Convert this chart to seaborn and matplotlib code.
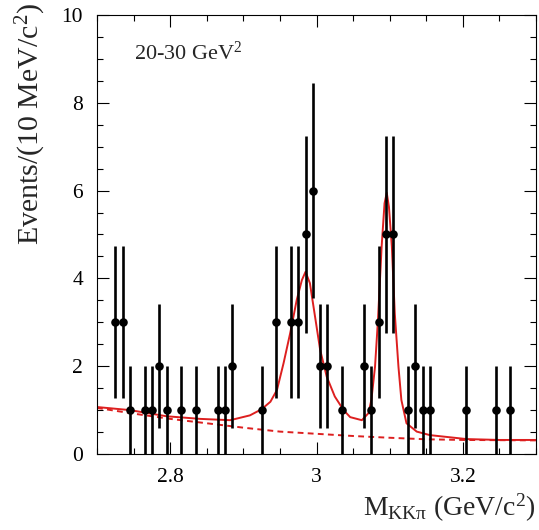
import numpy as np
import pandas as pd
import matplotlib
matplotlib.use("Agg")
import matplotlib.pyplot as plt
import seaborn as sns
from matplotlib.ticker import MultipleLocator

# ---- data ----
mass = [2.725, 2.735, 2.745, 2.765, 2.775, 2.785, 2.795, 2.815, 2.835, 2.865,
        2.875, 2.885, 2.925, 2.945, 2.965, 2.975, 2.985, 2.995, 3.005, 3.015,
        3.035, 3.065, 3.075, 3.085, 3.095, 3.105, 3.125, 3.135, 3.145, 3.155,
        3.205, 3.245, 3.265]
events = [3, 3, 1, 1, 1, 2, 1, 1, 1, 1,
          1, 2, 1, 3, 3, 3, 5, 6, 2, 2,
          1, 2, 1, 3, 5, 5, 1, 2, 1, 1,
          1, 1, 1]

fit_x = [2.700, 2.745, 2.795, 2.841, 2.882, 2.909, 2.925, 2.937, 2.946, 2.955,
         2.964, 2.973, 2.980, 2.985, 2.991, 2.998, 3.005, 3.014, 3.025, 3.037,
         3.046, 3.062, 3.071, 3.075, 3.080, 3.084, 3.089, 3.093, 3.096, 3.099,
         3.103, 3.107, 3.112, 3.116, 3.123, 3.137, 3.155, 3.205, 3.250, 3.300]
fit_y = [1.07, 1.00, 0.86, 0.80, 0.77, 0.88, 1.02, 1.19, 1.46, 2.07,
         2.75, 3.51, 3.96, 4.15, 3.89, 3.13, 2.37, 1.76, 1.31, 1.00,
         0.84, 0.77, 0.93, 1.23, 1.99, 3.05, 4.72, 5.71, 5.95, 5.63,
         4.72, 3.20, 1.99, 1.23, 0.70, 0.51, 0.43, 0.34, 0.32, 0.32]

bkg_x = [2.70, 2.75, 2.80, 2.85, 2.90, 2.95, 3.00, 3.05, 3.10, 3.15, 3.20, 3.25, 3.30]
bkg_y = [1.05, 0.92, 0.80, 0.70, 0.60, 0.51, 0.46, 0.41, 0.37, 0.335, 0.32, 0.315, 0.31]

xticks = [2.8, 3.0, 3.2]
xticklabels = ["2.8", "3", "3.2"]
yticks = [0, 2, 4, 6, 8, 10]
yticklabels = ["0", "2", "4", "6", "8", "10"]

# ---- style ----
sns.set_style("ticks")
plt.rcParams["font.family"] = ["Liberation Serif", "DejaVu Serif"]
plt.rcParams["mathtext.fontset"] = "custom"
plt.rcParams["mathtext.rm"] = "Liberation Serif"
plt.rcParams["mathtext.it"] = "Liberation Serif:italic"

red = "#dd1f1f"

fig = plt.figure(figsize=(5.39, 5.30), dpi=100)
ax = fig.add_axes([97 / 539, 76 / 530, 439 / 539, 439 / 530])

df = pd.DataFrame({"mass": mass, "events": events})
err = np.sqrt(np.array(events, dtype=float))

ax.errorbar(mass, events, yerr=err, fmt="none", ecolor="black",
            elinewidth=1.9, capsize=0, zorder=3)
sns.scatterplot(data=df, x="mass", y="events", ax=ax, color="black",
                marker="o", s=38, edgecolor="black", linewidth=0, zorder=4)

sns.lineplot(x=bkg_x, y=bkg_y, ax=ax, color=red, lw=1.4, sort=False,
             estimator=None, dashes=False, zorder=2)
ax.lines[-1].set_dashes((3, 2.2))
sns.lineplot(x=fit_x, y=fit_y, ax=ax, color=red, lw=1.4, sort=False,
             estimator=None, zorder=2)

ax.set_xlim(2.7, 3.3)
ax.set_ylim(0, 10)
ax.set_xticks(xticks)
ax.set_xticklabels(xticklabels)
ax.set_yticks(yticks)
ax.set_yticklabels(yticklabels)
ax.xaxis.set_minor_locator(MultipleLocator(0.05))
ax.yaxis.set_minor_locator(MultipleLocator(0.5))
ax.tick_params(which="both", direction="in", top=True, right=True,
               width=0.8, colors="black", labelsize=15.5)
ax.tick_params(which="major", length=8.5)
ax.tick_params(which="minor", length=4.3)
ax.tick_params(axis="x", which="major", pad=10)
ax.tick_params(axis="y", which="major", pad=10)
for s in ax.spines.values():
    s.set_linewidth(0.8)
    s.set_color("black")

ax.set_xlabel(r"M$_{\rm KK\pi}$ (GeV/c$^{2}$)", fontsize=20)
ax.set_ylabel(r"Events/(10 MeV/c$^{2}$)", fontsize=21.5)
ax.xaxis.set_label_coords(1.0, -0.085)
ax.xaxis.label.set_ha("right")
ax.yaxis.set_label_coords(-0.112, 1.027)
ax.yaxis.label.set_ha("right")

ax.text(0.085, 0.913, r"20-30 GeV$^{2}$", transform=ax.transAxes,
        fontsize=16, va="center", ha="left")

fig.savefig("out.png", dpi=100)
